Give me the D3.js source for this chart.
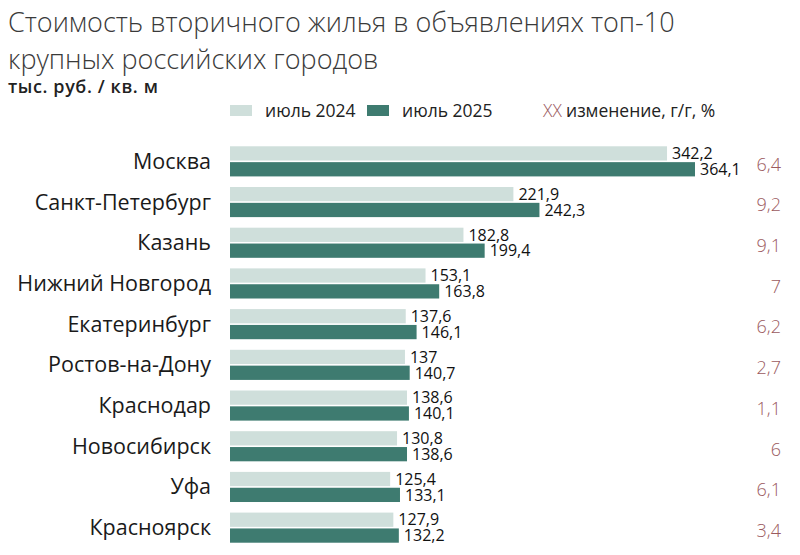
<!DOCTYPE html>
<html>
<head>
<meta charset="utf-8">
<script src="https://cdn.jsdelivr.net/npm/d3@7"></script>
<style>
  body { margin: 0; background: #fff; }
  text { font-family: "Open Sans", "Noto Sans", sans-serif; }
  text.val { font-family: "Liberation Sans Narrow", "Open Sans", sans-serif; }
</style>
</head>
<body>
<svg id="chart" width="800" height="555"></svg>
<script>
// data
const cities = ["Москва", "Санкт-Петербург", "Казань", "Нижний Новгород", "Екатеринбург",
  "Ростов-на-Дону", "Краснодар", "Новосибирск", "Уфа", "Красноярск"];
const july2024 = [342.2, 221.9, 182.8, 153.1, 137.6, 137, 138.6, 130.8, 125.4, 127.9];
const july2025 = [364.1, 242.3, 199.4, 163.8, 146.1, 140.7, 140.1, 138.6, 133.1, 132.2];
const changeYoY = ["6,4", "9,2", "9,1", "7", "6,2", "2,7", "1,1", "6", "6,1", "3,4"];
const seriesNames = ["июль 2024", "июль 2025"];

const colors = ["#cfdfdb", "#3e7b70"];
const pctColor = "#9b5a5e";

const svg = d3.select("#chart");

const rows = cities.map((c, i) => ({ city: c, vals: [july2024[i], july2025[i]], pct: changeYoY[i] }));

const x = d3.scaleLinear().domain([0, 364.1]).range([230, 695]);
const y0 = d3.scaleBand().domain(cities).range([141, 548]).paddingInner(0.26).paddingOuter(0.13);
const y1 = d3.scaleBand().domain([0, 1]).range([0, y0.bandwidth()]).paddingInner(0.1);

const fmt = v => String(v).replace(".", ",");

// titles
svg.append("text").attr("x", 8).attr("y", 32)
  .attr("font-size", 27).attr("font-weight", 300).attr("fill", "#3a3a3a")
  .text("Стоимость вторичного жилья в объявлениях топ-10");
svg.append("text").attr("x", 8).attr("y", 69)
  .attr("font-size", 27).attr("font-weight", 300).attr("fill", "#3a3a3a")
  .text("крупных российских городов");
svg.append("text").attr("x", 8).attr("y", 93)
  .attr("font-size", 18).attr("font-weight", 600).attr("letter-spacing", 0.6).attr("fill", "#222")
  .text("тыс. руб. / кв. м");

// legend
const legend = svg.append("g");
const legendX = [230, 367];
seriesNames.forEach((name, i) => {
  legend.append("rect").attr("x", legendX[i]).attr("y", 105).attr("width", 22).attr("height", 11)
    .attr("fill", colors[i]);
  legend.append("text").attr("x", legendX[i] + 35).attr("y", 117)
    .attr("font-size", 17.5).attr("fill", "#222").text(name);
});
legend.append("text").attr("x", 543).attr("y", 117)
  .attr("font-size", 17.5).attr("font-weight", 300).attr("fill", pctColor).text("XX");
legend.append("text").attr("x", 566).attr("y", 117)
  .attr("font-size", 17.5).attr("fill", "#222").text("изменение, г/г, %");

// city labels
svg.append("g").selectAll("text").data(rows).join("text")
  .attr("x", 211)
  .attr("y", d => y0(d.city) + y0.bandwidth() / 2)
  .attr("dy", "0.35em")
  .attr("text-anchor", "end")
  .attr("font-size", 21.5)
  .attr("fill", "#1a1a1a")
  .text(d => d.city);

// bars
const groups = svg.append("g").selectAll("g").data(rows).join("g")
  .attr("transform", d => "translate(0," + y0(d.city) + ")");

groups.selectAll("rect").data(d => d.vals).join("rect")
  .attr("x", x(0))
  .attr("y", (v, i) => y1(i))
  .attr("width", v => x(v) - x(0))
  .attr("height", y1.bandwidth())
  .attr("fill", (v, i) => colors[i]);

groups.selectAll("text.val").data(d => d.vals).join("text")
  .attr("class", "val")
  .attr("x", v => x(v) + 5)
  .attr("y", (v, i) => y1(i) + y1.bandwidth() / 2)
  .attr("dy", "0.36em")
  .attr("font-size", 16)
  .attr("fill", "#111")
  .text(v => fmt(v));

// yoy change
svg.append("g").selectAll("text").data(rows).join("text")
  .attr("x", 781)
  .attr("y", d => y0(d.city) + y0.bandwidth() / 2 + 3)
  .attr("dy", "0.35em")
  .attr("text-anchor", "end")
  .attr("font-size", 18)
  .attr("font-weight", 300)
  .attr("fill", pctColor)
  .text(d => d.pct);
</script>
</body>
</html>
